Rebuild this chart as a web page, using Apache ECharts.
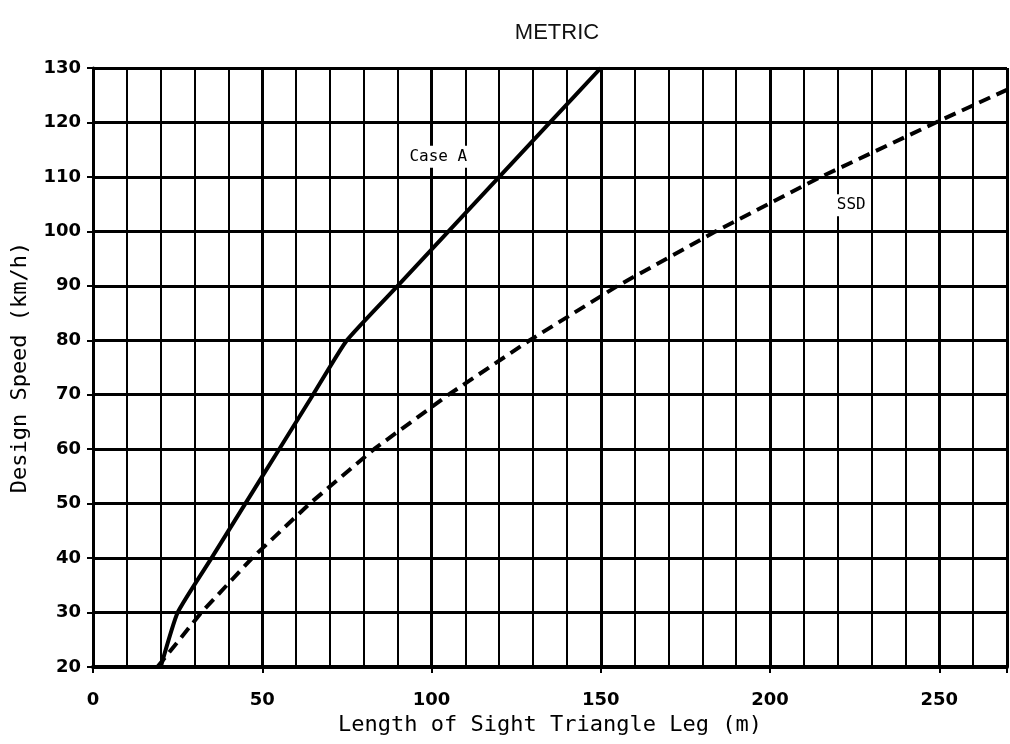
<!DOCTYPE html>
<html>
<head>
<meta charset="utf-8">
<script src="https://cdn.jsdelivr.net/npm/echarts@6/dist/echarts.min.js"></script>
<style>
  html, body { margin: 0; padding: 0; background: #fff; }
  #chart { width: 1010px; height: 744px; }
</style>
</head>
<body>
<div id="chart"></div>
<script>
// design speed (km/h) on the y axis
const speeds = [20, 30, 40, 50, 60, 70, 80, 90, 100, 110, 120, 130]
// length of sight triangle leg (m)
const caseA = [20, 25, 35, 45, 55, 65, 75, 90, 105, 120, 135, 150]
const ssd = [19, 32, 47, 64, 83, 105, 129, 155, 184, 215, 249, 284]
const xLabels = [0, 50, 100, 150, 200, 250]

const monoFont = 'DejaVu Sans Mono'

const chart = echarts.init(document.getElementById('chart'))

const option = {
  backgroundColor: '#fff',
  animation: false,
  title: {
    text: 'METRIC',
    left: 552,
    top: 17,
    textAlign: 'center',
    textStyle: { fontFamily: 'Liberation Sans', fontSize: 22, fontWeight: 'normal', color: '#111' }
  },
  grid: { left: 93, right: 2, top: 68, bottom: 77 },
  xAxis: [
    {
      // fine grid every 10 m
      type: 'value',
      position: 'bottom',
      min: 0,
      max: 270,
      interval: 10,
      axisLabel: { show: false },
      axisTick: { show: false },
      axisLine: { show: true, onZero: false, lineStyle: { color: '#000', width: 4 } },
      splitLine: { show: true, lineStyle: { color: '#000', width: 2 } }
    },
    {
      // labelled ticks every 50 m
      type: 'value',
      position: 'bottom',
      min: 0,
      max: 270,
      interval: 50,
      name: 'Length of Sight Triangle Leg (m)',
      nameLocation: 'middle',
      nameGap: 42,
      nameTextStyle: { fontFamily: monoFont, fontSize: 22, color: '#000' },
      axisLabel: {
        color: '#000',
        fontFamily: 'DejaVu Sans',
        fontWeight: 'bold',
        fontSize: 18,
        margin: 24,
        formatter: v => (xLabels.indexOf(v) >= 0 ? String(v) : '')
      },
      axisTick: { show: true, length: 6, lineStyle: { color: '#000', width: 2 } },
      axisLine: { show: false },
      splitLine: { show: true, lineStyle: { color: '#000', width: 3 } }
    }
  ],
  yAxis: {
    type: 'value',
    min: 20,
    max: 130,
    interval: 10,
    name: 'Design Speed (km/h)',
    nameLocation: 'middle',
    nameGap: 62,
    nameTextStyle: { fontFamily: monoFont, fontSize: 22, color: '#000' },
    axisLabel: {
      color: '#000',
      fontFamily: 'DejaVu Sans',
      fontWeight: 'bold',
      fontSize: 18,
      margin: 12
    },
    axisTick: { show: true, length: 6, lineStyle: { color: '#000', width: 2 } },
    axisLine: { show: true, lineStyle: { color: '#000', width: 3 } },
    splitLine: { show: true, lineStyle: { color: '#000', width: 3 } }
  },
  series: [
    {
      name: 'Case A',
      type: 'line',
      xAxisIndex: 0,
      data: caseA.map((d, i) => [d, speeds[i]]),
      showSymbol: false,
      smooth: 0.15,
      lineStyle: { color: '#000', width: 4 },
      clip: true,
      z: 5,
      markPoint: {
        symbol: 'rect',
        symbolSize: 1,
        itemStyle: { color: 'rgba(0,0,0,0)' },
        label: {
          show: true,
          formatter: 'Case A',
          position: 'inside',
          fontFamily: monoFont,
          fontSize: 16,
          color: '#000',
          backgroundColor: '#fff',
          padding: [3, 4]
        },
        data: [{ coord: [102, 113.7] }]
      }
    },
    {
      name: 'SSD',
      type: 'line',
      xAxisIndex: 0,
      data: ssd.map((d, i) => [d, speeds[i]]),
      showSymbol: false,
      lineStyle: { color: '#000', width: 4, type: [12, 7] },
      clip: true,
      z: 5,
      markPoint: {
        symbol: 'rect',
        symbolSize: 1,
        itemStyle: { color: 'rgba(0,0,0,0)' },
        label: {
          show: true,
          formatter: 'SSD',
          position: 'inside',
          fontFamily: monoFont,
          fontSize: 16,
          color: '#000',
          backgroundColor: '#fff',
          padding: [3, 4]
        },
        data: [{ coord: [224, 104.8] }]
      }
    }
  ]
}

chart.setOption(option)
</script>
</body>
</html>
